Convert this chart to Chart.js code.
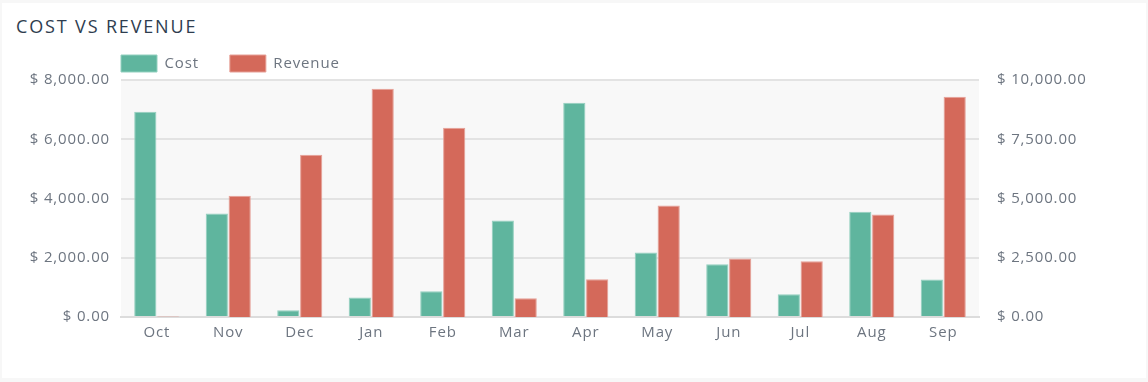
<!DOCTYPE html>
<html>
<head>
<meta charset="utf-8">
<script src="https://cdn.jsdelivr.net/npm/chart.js@4.4.1/dist/chart.umd.min.js"></script>
<style>
  html, body { margin: 0; padding: 0; }
  body { width: 1148px; height: 382px; background: #f7f7f7; position: relative; overflow: hidden; font-family: 'Open Sans', sans-serif; }
  #card { position: absolute; left: 2px; top: 3px; width: 1144px; height: 375px; background: #ffffff; }
  #title { position: absolute; left: 16px; top: 14px; font-size: 18px; line-height: normal; letter-spacing: 1.85px; color: #2e3d4f; font-family: 'Open Sans', sans-serif; }
  #c { position: absolute; left: 0; top: 0; width: 1148px; height: 382px; }
</style>
</head>
<body>
<div id="card"></div>
<div id="title">COST VS REVENUE</div>
<canvas id="c" width="1148" height="382"></canvas>
<script>
const months = ['Oct', 'Nov', 'Dec', 'Jan', 'Feb', 'Mar', 'Apr', 'May', 'Jun', 'Jul', 'Aug', 'Sep'];
const costValues = [6930, 3490, 230, 660, 870, 3260, 7230, 2180, 1780, 770, 3550, 1270];
const revenueValues = [20, 5120, 6850, 9630, 7990, 790, 1590, 4700, 2470, 2350, 4320, 9290];
const seriesNames = ['Cost', 'Revenue'];
const leftTicks = [0, 2000, 4000, 6000, 8000];
const rightTicks = [0, 2500, 5000, 7500, 10000];

const FONT = "'Open Sans'";
const TEXT = '#6d7580';
const LS = '0.85px';
const PLOT = { left: 121, right: 979, top: 79, bottom: 317 };
const LEGEND_GAP = 31;

function money(v) {
  return '$ ' + Number(v).toLocaleString('en-US', { minimumFractionDigits: 2, maximumFractionDigits: 2 });
}

const helper = {
  id: 'helper',
  beforeUpdate(chart) { chart.ctx.letterSpacing = LS; },
  beforeLayout(chart) { chart.ctx.letterSpacing = LS; },
  afterLayout(chart) {
    const lg = chart.legend;
    const p = lg.options.labels.padding;
    const w = lg.right - lg.left, h = lg.bottom - lg.top;
    lg.left = PLOT.left - p; lg.right = lg.left + w;
    lg.top = 55 - p; lg.bottom = lg.top + h;
  },
  beforeDraw(chart) {
    const ctx = chart.ctx, a = chart.chartArea;
    ctx.letterSpacing = LS;
    ctx.save();
    ctx.fillStyle = '#f8f8f8';
    ctx.fillRect(a.left, a.top, a.right - a.left, a.bottom - a.top);
    ctx.restore();
  }
};

new Chart(document.getElementById('c'), {
  type: 'bar',
  data: {
    labels: months,
    datasets: [
      { label: seriesNames[0], data: costValues, yAxisID: 'yCost',
        backgroundColor: '#5fb59e', borderColor: '#93d0bf', borderWidth: 1,
        categoryPercentage: 0.64, barPercentage: 0.97 },
      { label: seriesNames[1], data: revenueValues, yAxisID: 'yRev',
        backgroundColor: '#d4695a', borderColor: '#e6a097', borderWidth: 1,
        categoryPercentage: 0.64, barPercentage: 0.97 }
    ]
  },
  options: {
    responsive: false,
    maintainAspectRatio: false,
    animation: false,
    devicePixelRatio: 1,
    layout: { padding: { top: 22, left: 0, right: 0, bottom: 0 } },
    plugins: {
      title: { display: false },
      tooltip: { enabled: false },
      legend: {
        position: 'top', align: 'start', fullSize: false,
        labels: { boxWidth: 36, boxHeight: 17, padding: LEGEND_GAP, color: TEXT,
          font: { family: FONT, size: 15 } }
      }
    },
    scales: {
      x: {
        grid: { display: false, drawTicks: false },
        border: { display: true, color: '#dcdcdc', width: 2 },
        ticks: { color: TEXT, padding: 7, maxRotation: 0, font: { family: FONT, size: 15 } },
        afterFit(s) { s.height = 382 - PLOT.bottom; }
      },
      yCost: {
        position: 'left', min: 0, max: 8000,
        afterBuildTicks(s) { s.ticks = leftTicks.map(v => ({ value: v })); },
        grid: { color: '#e3e3e3', lineWidth: 2, drawTicks: false },
        border: { display: false },
        ticks: { color: TEXT, padding: 11, font: { family: FONT, size: 15 }, callback: v => money(v) },
        afterFit(s) { s.width = PLOT.left; }
      },
      yRev: {
        position: 'right', min: 0, max: 10000,
        afterBuildTicks(s) { s.ticks = rightTicks.map(v => ({ value: v })); },
        grid: { display: false, drawTicks: false },
        border: { display: false },
        ticks: { color: TEXT, padding: 18, font: { family: FONT, size: 15 }, callback: v => money(v) },
        afterFit(s) { s.width = 1148 - PLOT.right; }
      }
    }
  },
  plugins: [helper]
});
</script>
</body>
</html>
